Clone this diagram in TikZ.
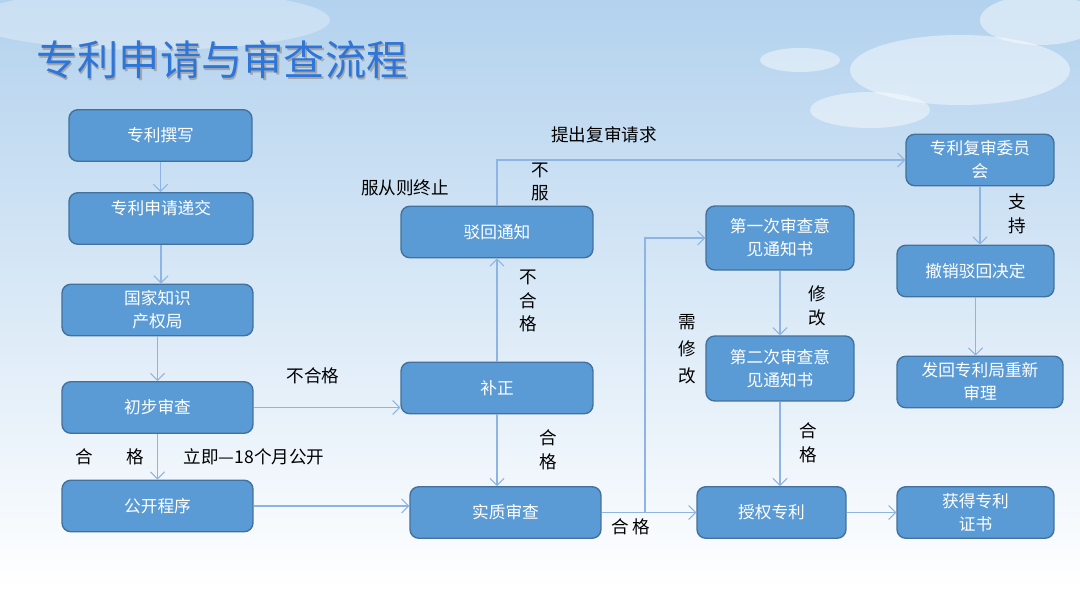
\documentclass[tikz,border=0pt]{standalone}
\usepackage{fontspec}
\setmainfont{Noto Sans CJK SC}
\definecolor{BoxBlue}{HTML}{5B9BD5}
\definecolor{BoxEdge}{HTML}{41719C}
\definecolor{LineBlue}{HTML}{8EB4E3}
\definecolor{TitleBlue}{HTML}{2E75D9}
\definecolor{SkyTop}{HTML}{B3D2EE}
\definecolor{SkyMid}{HTML}{DCEAF6}
\usetikzlibrary{arrows.meta}

\begin{document}
\begin{tikzpicture}[x=0.02cm, y=-0.02cm,
    box/.style={rectangle, rounded corners=5pt, draw=BoxEdge, fill=BoxBlue, line width=0.8pt,
      text=white, align=center, font=\fontsize{9.5}{13}\selectfont, minimum height=1.03cm},
    lnk/.style={draw=LineBlue, line width=0.6pt, -{Straight Barb[length=4pt,width=8pt]}},
    lbl/.style={font=\fontsize{10}{13.5}\selectfont, align=center, text=black},
    cloud/.style={fill=white, opacity=0.45}]
    \useasboundingbox (0,0) rectangle (1080,591);
    % sky background
    \begin{scope}
      \clip (0,0) rectangle (1080,591);
      \shade[top color=SkyTop, middle color=SkyMid, bottom color=white] (0,0) rectangle (1080,591);
      \fill[cloud] (960,70) ellipse (110 and 35);
      \fill[cloud] (870,110) ellipse (60 and 18);
      \fill[cloud] (1040,20) ellipse (60 and 25);
      \fill[cloud] (800,60) ellipse (40 and 12);
      \fill[white, opacity=0.3] (150,20) ellipse (180 and 30);
    \end{scope}

    % title
    \node[font=\fontsize{23.5}{28}\selectfont, text=black!35, anchor=west] (titleshadow) at (31.5,61.5) {专利申请与审查流程};
    \node[font=\fontsize{23.5}{28}\selectfont, text=TitleBlue, anchor=west] (title) at (30,60) {专利申请与审查流程};

    % boxes
    \node[box, minimum width=3.66cm] (write) at (160.5,135.5) {专利撰写};
    \node[box, minimum width=3.68cm] (submit) at (161,218.5) {专利申请递交\\\mbox{}};
    \node[box, minimum width=3.82cm] (cnipa) at (157.5,310) {国家知识\\产权局};
    \node[box, minimum width=3.82cm] (prelim) at (157.5,407.5) {初步审查};
    \node[box, minimum width=3.82cm] (publish) at (157.5,506) {公开程序};
    \node[box, minimum width=3.84cm] (amend) at (497,388) {补正};
    \node[box, minimum width=3.82cm] (subst) at (505.5,512.5) {实质审查};
    \node[box, minimum width=3.84cm] (reject) at (497,232) {驳回通知};
    \node[box, minimum width=2.96cm, minimum height=1.28cm] (first) at (780,238) {第一次审查意\\见通知书};
    \node[box, minimum width=2.96cm, minimum height=1.3cm] (second) at (780,368.5) {第二次审查意\\见通知书};
    \node[box, minimum width=2.98cm] (grant) at (771.5,512.5) {授权专利};
    \node[box, minimum width=3.14cm] (cert) at (975.5,512.5) {获得专利\\证书};
    \node[box, minimum width=2.96cm] (board) at (980,160) {专利复审委员\\会};
    \node[box, minimum width=3.14cm] (revoke) at (975.5,271) {撤销驳回决定};
    \node[box, minimum width=3.32cm] (remand) at (980,382) {发回专利局重新\\审理};

    % connectors
    \draw[lnk] (write) -- (write |- submit.north);
    \draw[lnk] (submit) -- (submit |- cnipa.north);
    \draw[lnk] (cnipa) -- (prelim);
    \draw[lnk] (prelim) -- (publish);
    \draw[lnk] (prelim) -- (prelim -| amend.west);
    \draw[lnk] (publish) -- (publish -| subst.west);
    \draw[lnk] (amend) -- (amend |- subst.north);
    \draw[lnk] (amend) -- (reject);
    \draw[lnk] (reject.north) |- (board.west);
    \draw[lnk] (subst) -- (grant);
    \coordinate (fork) at (645,512.5);
    \draw[lnk] (fork) |- (first.west);
    \draw[lnk] (first) -- (second);
    \draw[lnk] (second) -- (second |- grant.north);
    \draw[lnk] (grant) -- (cert);
    \draw[lnk] (board) -- (board |- revoke.north);
    \draw[lnk] (revoke) -- (revoke |- remand.north);

    % labels
    \node[lbl] (nopass1) at (313,376) {不合格};
    \node[lbl] (pass1) at (110,457) {合\hspace{1.9em}格};
    \node[lbl] (pubtime) at (254,457) {立即—18个月公开};
    \node[lbl] (pass2) at (548,450) {合\\格};
    \node[lbl] (nopass2) at (528,301) {不\\合\\格};
    \node[lbl] (appeal) at (604,135) {提出复审请求};
    \node[lbl] (object) at (540,182) {不\\服};
    \node[lbl] (accept) at (405,188) {服从则终止};
    \node[lbl] (pass3) at (631,527) {合\,格};
    \node[lbl, font=\fontsize{10}{15.5}\selectfont] (revise1) at (687,349) {需\\修\\改};
    \node[lbl] (revise2) at (817,306) {修\\改};
    \node[lbl] (pass4) at (808,443) {合\\格};
    \node[lbl] (support) at (1017,214) {支\\持};
\end{tikzpicture}
\end{document}
